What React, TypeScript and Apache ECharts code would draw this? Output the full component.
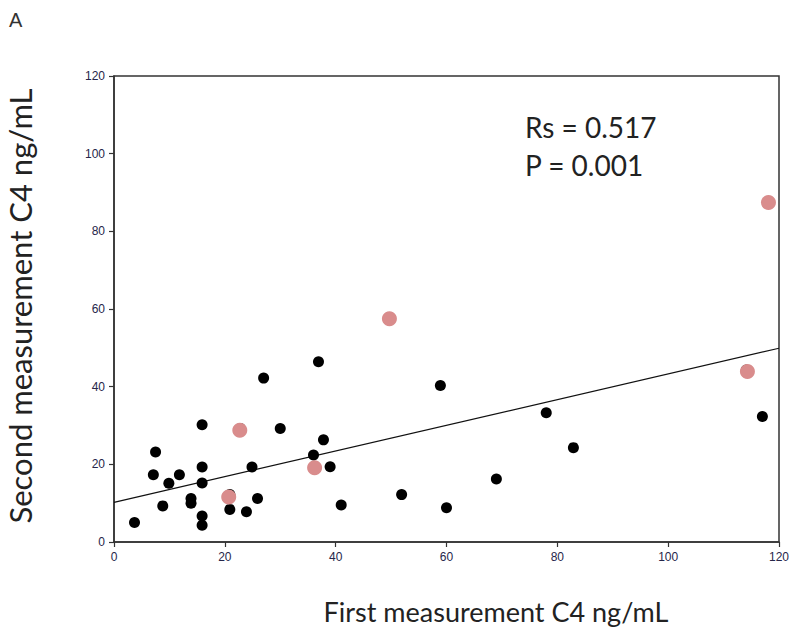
import React, { useEffect, useRef } from "react";
import * as echarts from "echarts";

// Data
const blackPoints: [number, number][] = [
  [3.7, 5.0], [7.5, 23.2], [7.1, 17.3], [8.8, 9.3], [9.9, 15.1], [11.8, 17.3],
  [13.9, 11.2], [13.9, 10.0], [15.9, 30.2], [15.9, 19.3], [15.9, 15.2],
  [15.9, 6.7], [15.9, 4.3], [20.9, 8.4], [23.9, 7.8], [25.9, 11.2],
  [24.9, 19.3], [30.0, 29.2], [27.0, 42.2], [36.9, 46.4], [37.8, 26.3],
  [36.0, 22.4], [39.0, 19.4], [41.0, 9.5], [51.9, 12.2], [58.9, 40.3],
  [60.0, 8.8], [69.0, 16.2], [78.0, 33.3], [82.9, 24.3], [117.0, 32.3],
  [20.9, 12.2], [22.8, 29.2], [36.2, 19.5], [114.1, 44.3],
];
const pinkPoints: [number, number][] = [
  [20.7, 11.6], [22.7, 28.8], [36.2, 19.1], [49.7, 57.5], [114.3, 43.9], [118.1, 87.4],
];
const trendLine: [number, number][] = [[0, 10.2], [120, 49.9]];
const statsLines = ["Rs = 0.517", "P = 0.001"];
const xTitle = "First measurement C4 ng/mL";
const yTitle = "Second measurement C4 ng/mL";
const panelLabel = "A";

export default function App() {
  const ref = useRef<HTMLDivElement>(null);
  useEffect(() => {
    document.body.style.margin = "0";
    const chart = echarts.init(ref.current!, undefined, { renderer: "svg" });
    const axisCommon = {
      type: "value" as const,
      min: 0,
      max: 120,
      interval: 20,
      axisLine: { show: true, lineStyle: { color: "#333", width: 1.5 } },
      axisTick: { show: true, inside: false, length: 5, lineStyle: { color: "#333", width: 1.2 } },
      splitLine: { show: false },
      axisLabel: { color: "#26264a", fontSize: 12, fontFamily: "Liberation Sans, Arial, sans-serif" },
    };
    chart.setOption({
      animation: false,
      backgroundColor: "#fff",
      grid: {
        left: 114, right: 21, top: 76, bottom: 94,
        show: true, borderColor: "#333", borderWidth: 1.5, backgroundColor: "transparent",
      },
      xAxis: { ...axisCommon, axisLabel: { ...axisCommon.axisLabel, margin: 9 } },
      yAxis: { ...axisCommon, axisLabel: { ...axisCommon.axisLabel, margin: 9 } },
      series: [
        {
          type: "line",
          data: trendLine,
          showSymbol: false,
          symbol: "none",
          lineStyle: { color: "#111", width: 1.2 },
          z: 1,
          silent: true,
        },
        {
          type: "scatter",
          data: blackPoints,
          symbol: "circle",
          symbolSize: 11,
          itemStyle: { color: "#000", opacity: 1 },
          z: 2,
        },
        {
          type: "scatter",
          data: pinkPoints,
          symbol: "circle",
          symbolSize: 15,
          itemStyle: { color: "#d98c8c", opacity: 1 },
          z: 3,
        },
      ],
      graphic: [
        {
          type: "text", left: 9, top: 10,
          style: { text: panelLabel, fontSize: 20, fill: "#333", fontFamily: "Liberation Sans Narrow, Liberation Sans, sans-serif" },
        },
        {
          type: "text", x: 525, y: 127,
          style: { text: statsLines[0], fontSize: 28, fill: "#222", fontFamily: "Lato, sans-serif", verticalAlign: "middle" },
        },
        {
          type: "text", x: 525, y: 165,
          style: { text: statsLines[1], fontSize: 28, fill: "#222", fontFamily: "Lato, sans-serif", verticalAlign: "middle" },
        },
        {
          type: "text", x: 496, y: 611,
          style: { text: xTitle, fontSize: 27, fill: "#222", fontFamily: "Lato, sans-serif", align: "center", verticalAlign: "middle" },
        },
        {
          type: "text", x: 20, y: 306, rotation: Math.PI / 2,
          style: { text: yTitle, fontSize: 31, fill: "#222", fontFamily: "Lato, sans-serif", align: "center", verticalAlign: "middle" },
        },
      ],
    });
    return () => chart.dispose();
  }, []);
  return <div ref={ref} style={{ position: "absolute", left: 0, top: 0, width: 800, height: 636 }} />;
}
